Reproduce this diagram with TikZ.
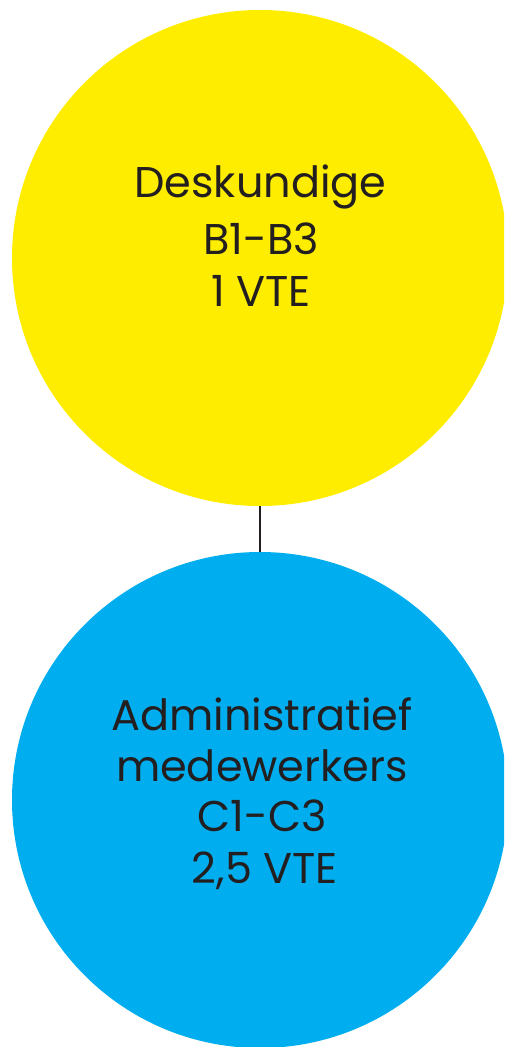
\documentclass[tikz,border=0pt]{standalone}
\usepackage{fontspec}
\setmainfont{Poppins}
\definecolor{circyellow}{HTML}{FFED00}
\definecolor{circblue}{HTML}{00AEEF}
\definecolor{txtdark}{HTML}{231F20}
\begin{document}
\begin{tikzpicture}[x=1pt,y=-1pt,
  bubble/.style={circle,inner sep=0pt,minimum size=496pt},
  lbl/.style={anchor=base,inner sep=0pt,text=txtdark,font=\fontsize{43}{50}\selectfont}]
\useasboundingbox (0,0) rectangle (504,1047);
\begin{scope}
\clip (0,0) rectangle (504,1047);
\node[bubble,fill=circyellow] (top) at (260,258) {};
\node[bubble,fill=circblue] (bot) at (260,800) {};
\end{scope}
\draw[txtdark,line width=1.5pt] (top.south) -- (bot.north);
\node[lbl] (t1) at (260.5,197) {Deskundige};
\node[lbl] (t2) at (261,254) {B1-B3};
\node[lbl] (t3) at (261,306) {1 VTE};
\node[lbl] (b1) at (262,730) {Administratief};
\node[lbl] (b2) at (262,781) {medewerkers};
\node[lbl] (b3) at (262,831) {C1-C3};
\node[lbl] (b4) at (265,883) {2,5 VTE};
\end{tikzpicture}
\end{document}
